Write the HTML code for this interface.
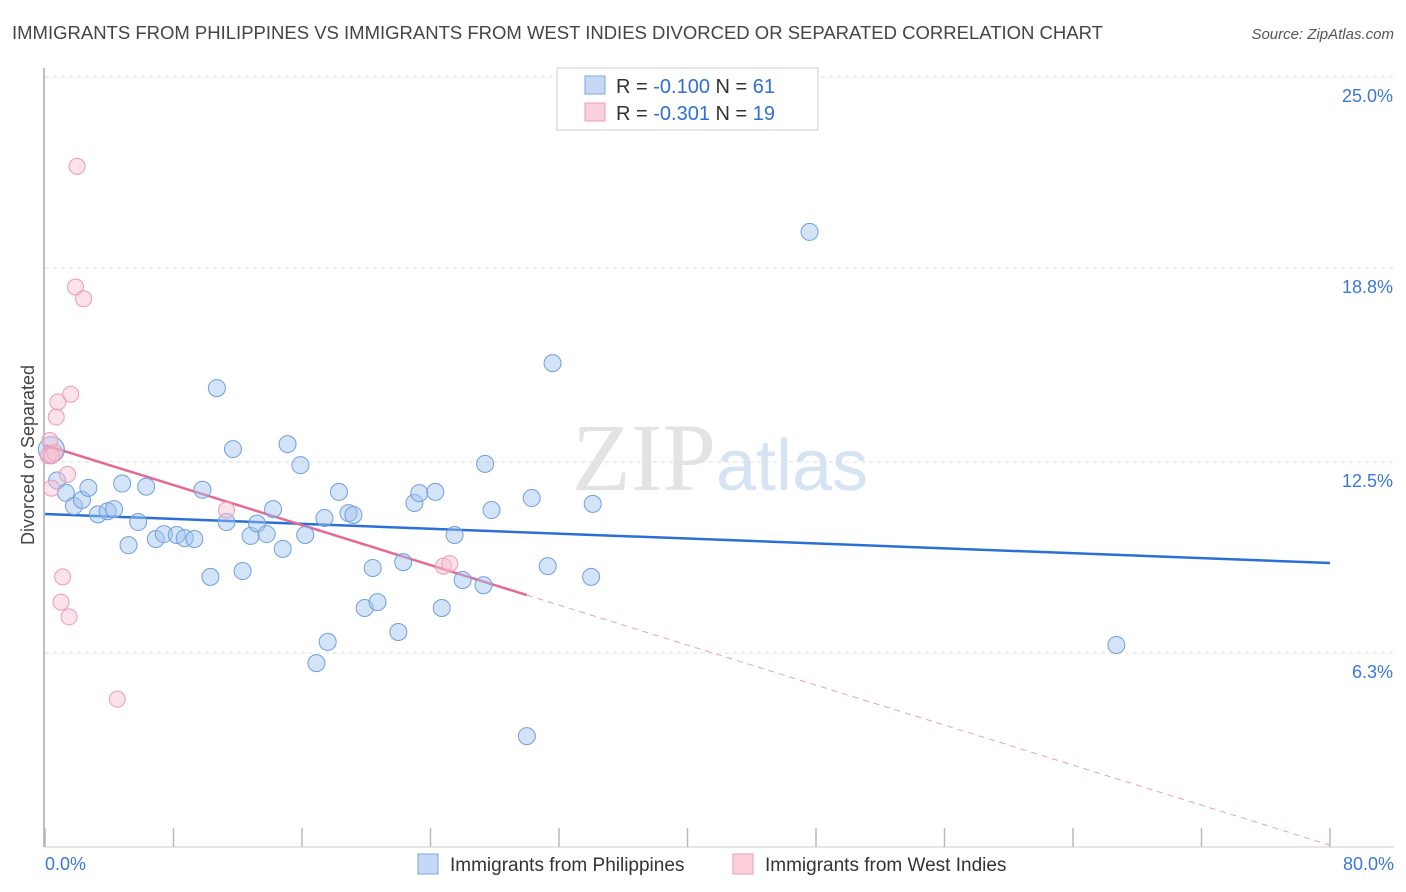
<!DOCTYPE html>
<html><head><meta charset="utf-8"><style>
body{margin:0;background:#fff;font-family:"Liberation Sans",sans-serif}
</style></head><body>
<svg id="chart" width="1406" height="892" xmlns="http://www.w3.org/2000/svg" style="display:block">
<text x="12" y="39" font-size="18.5" fill="#444">IMMIGRANTS FROM PHILIPPINES VS IMMIGRANTS FROM WEST INDIES DIVORCED OR SEPARATED CORRELATION CHART</text>
<text x="1394" y="39" font-size="15" fill="#555" text-anchor="end" font-style="italic">Source: ZipAtlas.com</text>
<text x="720" y="490" font-size="96" fill="#e3e3e3" text-anchor="middle" font-family="Liberation Serif"><tspan>ZIP</tspan><tspan fill="#d5e3f3" font-family="Liberation Sans" font-size="72">atlas</tspan></text>
<text transform="translate(34,455) rotate(-90)" font-size="18" fill="#444" text-anchor="middle">Divorced or Separated</text>
<g id="grid"></g><g id="axes"></g><g id="lines"></g><g id="pts"></g>
<g>
<rect x="557" y="68" width="261" height="62" fill="#fff" stroke="#ccc"/>
<rect x="585" y="76" width="20" height="18" fill="#c5d9f5" stroke="#7aa6e8"/>
<rect x="585" y="103" width="20" height="18" fill="#fbd0dc" stroke="#f09ab4"/>
<text x="616" y="93" font-size="20" fill="#333">R = <tspan fill="#2f6fd6">-0.100</tspan>   N = <tspan fill="#2f6fd6">61</tspan></text>
<text x="616" y="120" font-size="20" fill="#333">R = <tspan fill="#2f6fd6">-0.301</tspan>   N = <tspan fill="#2f6fd6">19</tspan></text>
</g>
<g>
<rect x="418" y="854" width="20" height="20" fill="#c5d9f5" stroke="#7aa6e8"/>
<text x="450" y="871" font-size="19" fill="#333">Immigrants from Philippines</text>
<rect x="733" y="854" width="20" height="20" fill="#fbd0dc" stroke="#f09ab4"/>
<text x="765" y="871" font-size="19" fill="#333">Immigrants from West Indies</text>
</g>
</svg>
<script>
const blueX=[47.6,31.6,10.7,11.7,15.1,15.9,27.4,0.4,0.75,1.3,1.8,2.3,2.7,3.3,3.9,4.3,4.8,5.8,5.2,6.3,6.9,7.4,8.2,8.7,9.3,9.8,10.3,11.3,12.3,12.8,13.2,13.8,14.2,14.8,16.2,16.9,17.4,17.6,18.3,18.9,19.2,19.9,20.4,20.7,22.0,22.3,23.0,23.3,24.3,24.7,25.5,26.0,27.3,27.8,30.0,30.3,31.3,34.0,34.1,66.7];
const blueY=[19.97,15.71,14.9,12.92,13.08,12.4,12.44,12.9,11.9,11.5,11.07,11.27,11.66,10.8,10.9,10.97,11.8,10.55,9.8,11.7,10.0,10.16,10.13,10.03,10.0,11.6,8.77,10.55,8.96,10.1,10.5,10.16,10.97,9.68,10.13,5.97,10.68,6.66,11.53,10.84,10.78,7.76,9.06,7.95,6.98,9.25,11.17,11.49,11.53,7.76,10.13,8.67,8.5,10.94,3.6,11.33,9.12,8.77,11.14,6.56];
const pinkX=[2.0,1.9,2.4,1.6,0.8,0.7,0.3,0.2,0.6,1.4,0.4,1.1,1.0,1.5,4.5,11.3,24.8,25.2,0.4];
const pinkY=[22.1,18.18,17.8,14.7,14.45,13.96,13.2,12.7,12.8,12.1,11.65,8.77,7.95,7.47,4.8,10.94,9.12,9.2,12.7];
const blueTrend=[10.81,9.22]; // y at x=0 and x=80
const pinkTrend=[13.05,0.06]; // y at x=0 and x=80
const pinkSolidEnd=30.0;
const yTicks=[6.3,12.5,18.8,25.0];
const yTickLabels=["6.3%","12.5%","18.8%","25.0%"];
const xTicks=[0,8,16,24,32,40,48,56,64,72,80];
const NS="http://www.w3.org/2000/svg";
const X=v=>45+v/80*1285, Y=v=>847-v*30.8;
function mk(t,a,p){const e=document.createElementNS(NS,t);for(const k in a)e.setAttribute(k,a[k]);document.getElementById(p).appendChild(e);return e;}
yTicks.forEach((t,i)=>{
 const l=mk('line',{x1:45,x2:1394,y1:Y(t),y2:Y(t),stroke:'#ddd','stroke-dasharray':'4,4'},'grid');
 
 
 const tx=mk('text',{x:1393,y:Y(t)+25,'font-size':18,fill:'#3a78d8','text-anchor':'end'},'axes');
 tx.textContent=yTickLabels[i];
 
 
});
const ax=mk('line',{x1:44,x2:44,y1:68,y2:847,stroke:'#aaa','stroke-width':1.5},'axes');


const bx=mk('line',{x1:44,x2:1394,y1:847,y2:847,stroke:'#ccc'},'axes');


xTicks.forEach(t=>{
 const l=mk('line',{x1:X(t),x2:X(t),y1:828,y2:847,stroke:'#bbb','stroke-width':1.5},'axes');
 
 
});
const xl0=mk('text',{x:45,y:870,'font-size':18,fill:'#3a78d8'},'axes');xl0.textContent='0.0%';


const xl1=mk('text',{x:1394,y:870,'font-size':18,fill:'#3a78d8','text-anchor':'end'},'axes');xl1.textContent='80.0%';


blueX.forEach((x,i)=>{
 const c=mk('circle',{cx:X(x),cy:Y(blueY[i]),r:i==7?13:8.5,fill:'rgba(160,195,240,0.45)',stroke:'#6f9fe0','stroke-width':1},'pts');
 
 
});
pinkX.forEach((x,i)=>{
 const c=mk('circle',{cx:X(x),cy:Y(pinkY[i]),r:8,fill:'rgba(248,190,208,0.45)',stroke:'#f09ab4','stroke-width':1},'pts');
 
 
});
const bl=mk('line',{x1:X(0),y1:Y(blueTrend[0]),x2:X(80),y2:Y(blueTrend[1]),stroke:'#2a6fd6','stroke-width':2.5},'lines');


const pe=pinkTrend[0]+(pinkTrend[1]-pinkTrend[0])*pinkSolidEnd/80;
const pl=mk('line',{x1:X(0),y1:Y(pinkTrend[0]),x2:X(pinkSolidEnd),y2:Y(pe),stroke:'#e56a92','stroke-width':2.5},'lines');


const pd=mk('line',{x1:X(pinkSolidEnd),y1:Y(pe),x2:X(80),y2:Y(pinkTrend[1]),stroke:'#e8a0b8','stroke-width':1,'stroke-dasharray':'6,5'},'lines');


</script>
</body></html>
